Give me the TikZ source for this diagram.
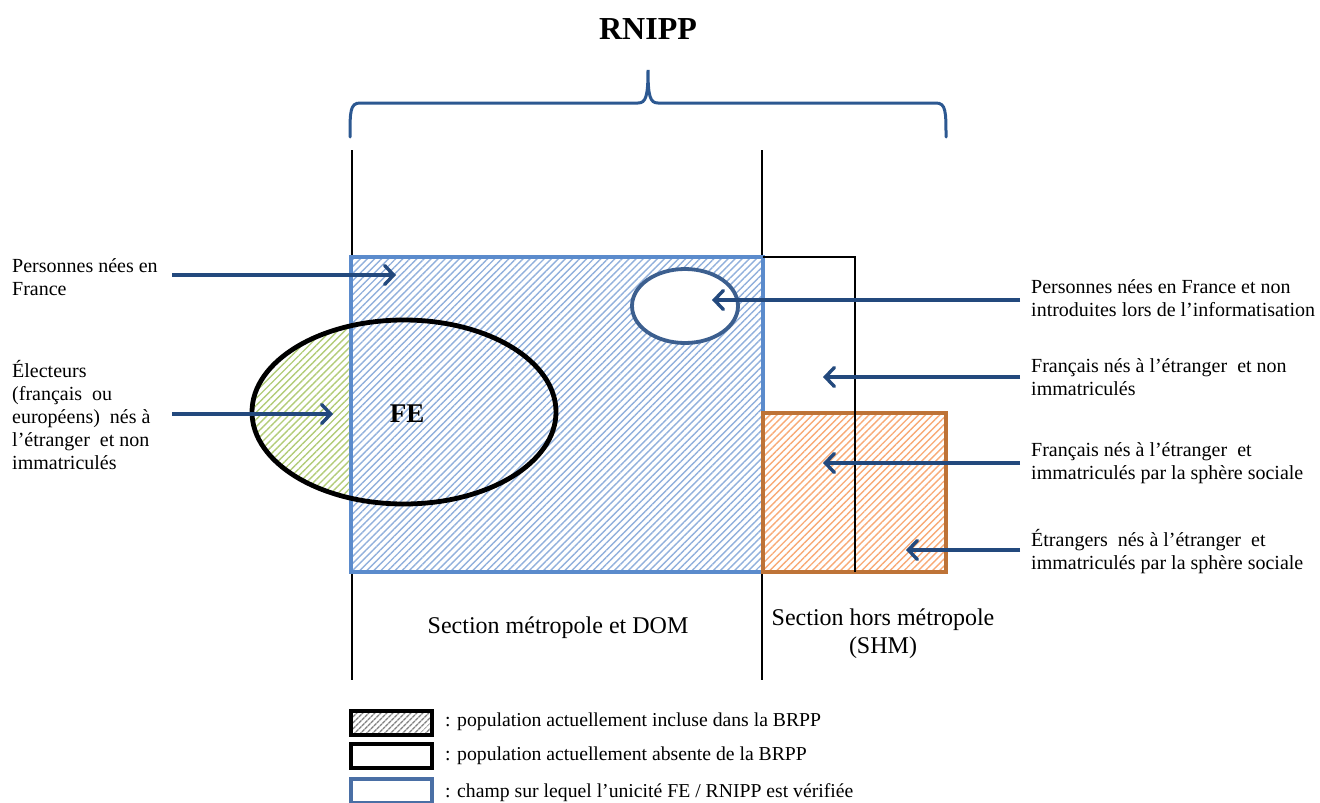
\documentclass[tikz,border=0pt]{standalone}
\usepackage{fontspec}
\setmainfont{Liberation Serif}
\usetikzlibrary{arrows.meta,patterns.meta,shapes.geometric}
\definecolor{rectblue}{RGB}{91,139,204}
\definecolor{hatchblue}{RGB}{145,176,220}
\definecolor{ellblue}{RGB}{60,95,143}
\definecolor{arrblue}{RGB}{35,73,125}
\definecolor{braceblue}{RGB}{44,88,145}
\definecolor{orangeb}{RGB}{190,115,55}
\definecolor{hatchorange}{RGB}{248,170,118}
\definecolor{hatchgreen}{RGB}{178,204,120}
\definecolor{legblue}{RGB}{74,111,165}
\begin{document}
\begin{tikzpicture}[x=1pt,y=-1pt,
  txt/.style={inner sep=0pt,align=left,font=\fontsize{20}{23}\selectfont},
  sectxt/.style={inner sep=0pt,align=center,font=\fontsize{24}{28}\selectfont},
  legtxt/.style={inner sep=0pt,anchor=west,font=\fontsize{19.7}{22}\selectfont},
  arr/.style={draw=arrblue,line width=3.4pt,-{Straight Barb[length=9pt,width=19pt,line cap=round]}},
  thin/.style={draw=black,line width=1.1pt},
  hatchB/.style={pattern={Lines[angle=45,distance=5pt,line width=1.4pt]},pattern color=hatchblue},
  hatchO/.style={pattern={Lines[angle=45,distance=5pt,line width=1.4pt]},pattern color=hatchorange},
  hatchG/.style={pattern={Lines[angle=45,distance=5pt,line width=1.4pt]},pattern color=hatchgreen},
  hatchK/.style={pattern={Lines[angle=45,distance=4pt,line width=1.5pt]},pattern color=gray},
  legbox/.style={line width=4.5pt}
]
\useasboundingbox (0,0) rectangle (1320,803);

% title and brace
\node[inner sep=0pt,font=\bfseries\fontsize{32}{36}\selectfont] (title) at (648,29) {RNIPP};
\draw[braceblue,line width=3pt,line cap=round]
  (350,137) .. controls (350,112) and (350,103) .. (360,103) -- (638,103)
  .. controls (646,103) and (648,96) .. (648,70)
  .. controls (648,96) and (650,103) .. (658,103) -- (936,103)
  .. controls (946,103) and (946,112) .. (946,137);

% section separators
\coordinate (v1t) at (352,150); \coordinate (v1b) at (352,680);
\coordinate (v2t) at (762,150); \coordinate (v2b) at (762,680);
\draw[thin] (v1t) -- (v1b);
\draw[thin] (v2t) -- (v2b);

% main blue rectangle
\coordinate (bl) at (351,257); \coordinate (br) at (763,572);
\draw[rectblue,line width=4.5pt,hatchB] (bl) rectangle (br);

% orange rectangle
\coordinate (ol) at (763,413); \coordinate (or) at (946,572);
\draw[orangeb,line width=4.5pt,hatchO] (ol) rectangle (or);

% SHM thin outline
\coordinate (s1) at (763,257); \coordinate (s2) at (855,257); \coordinate (s3) at (855,572);
\draw[thin] (s1) -- (s2) -- (s3);

% FE ellipse
\begin{scope}
  \clip (240,300) rectangle (349,520);
  \fill[hatchG] (404,412) ellipse [x radius=152, y radius=92];
\end{scope}
\node[ellipse,draw=black,line width=4.8pt,minimum width=304pt,minimum height=184pt,inner sep=0pt] (fe) at (404,412) {};
\node[inner sep=0pt,font=\bfseries\fontsize{27}{30}\selectfont] (felabel) at (407,414) {FE};

% small ellipse
\node[ellipse,draw=ellblue,fill=white,line width=3.8pt,minimum width=106pt,minimum height=74pt,inner sep=0pt] (small) at (685,306) {};

% texts
\node[txt,anchor=west] (t1) at (12,277) {Personnes nées en\\France};
\node[txt,anchor=west] (t2) at (12,415) {Électeurs\\(français~ ou\\européens)~ nés à\\l’étranger~ et non\\immatriculés};
\node[txt,anchor=west] (t3) at (1031,298) {Personnes nées en France et non\\introduites lors de l’informatisation};
\node[txt,anchor=west] (t4) at (1031,377) {Français nés à l’étranger~ et non\\immatriculés};
\node[txt,anchor=west] (t5) at (1031,463) {Français nés à l’étranger~ et\\immatriculés par la sphère sociale};
\node[txt,anchor=west] (t6) at (1031,552) {Étrangers~ nés à l’étranger~ et\\immatriculés par la sphère sociale};

% arrows
\coordinate (a1s) at (172,275); \coordinate (a1e) at (396,275);
\coordinate (a2s) at (172,414); \coordinate (a2e) at (333,414);
\coordinate (a3s) at (1020,300); \coordinate (a3e) at (712,300);
\coordinate (a4s) at (1020,377); \coordinate (a4e) at (823,377);
\coordinate (a5s) at (1020,463); \coordinate (a5e) at (823,463);
\coordinate (a6s) at (1020,550); \coordinate (a6e) at (906,550);
\draw[arr] (a1s) -- (a1e);
\draw[arr] (a2s) -- (a2e);
\draw[arr] (a3s) -- (a3e);
\draw[arr] (a4s) -- (a4e);
\draw[arr] (a5s) -- (a5e);
\draw[arr] (a6s) -- (a6e);

% section labels
\node[sectxt] (smd) at (558,628) {Section métropole et DOM};
\node[sectxt] (shm) at (883,634) {Section hors métropole\\(SHM)};

% legend
\draw[legbox,hatchK] (351,711) rectangle (432,735);
\node[legtxt] (l1) at (445,722) {: population actuellement incluse dans la BRPP};
\draw[legbox] (351,744) rectangle (432,768);
\node[legtxt] (l2) at (445,756) {: population actuellement absente de la BRPP};
\draw[legbox,draw=legblue] (351,779) rectangle (432,803);
\node[legtxt] (l3) at (445,793) {: champ sur lequel l’unicité FE / RNIPP est vérifiée};
\end{tikzpicture}
\end{document}
